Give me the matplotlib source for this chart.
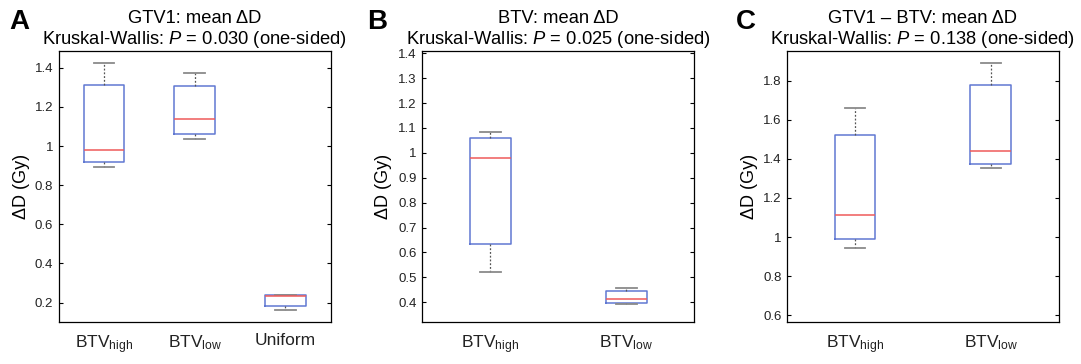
import matplotlib
matplotlib.use("Agg")
import matplotlib.pyplot as plt
from matplotlib.ticker import FuncFormatter

plt.rcParams.update({
    "font.family": ["Liberation Sans", "DejaVu Sans"],
    "mathtext.fontset": "custom",
    "mathtext.rm": "Liberation Sans",
    "mathtext.it": "Liberation Sans:italic",
    "mathtext.bf": "Liberation Sans:bold",
})

# box statistics: (whisker low, Q1, median, Q3, whisker high)
A_LABELS = [r"BTV$_{\mathrm{high}}$", r"BTV$_{\mathrm{low}}$", "Uniform"]
A_LO = [0.894, 1.034, 0.164]
A_Q1 = [0.917, 1.060, 0.183]
A_MED = [0.982, 1.136, 0.234]
A_Q3 = [1.312, 1.308, 0.238]
A_HI = [1.425, 1.371, 0.241]

B_LABELS = [r"BTV$_{\mathrm{high}}$", r"BTV$_{\mathrm{low}}$"]
B_LO = [0.522, 0.393]
B_Q1 = [0.636, 0.398]
B_MED = [0.980, 0.412]
B_Q3 = [1.060, 0.444]
B_HI = [1.083, 0.457]

C_LABELS = [r"BTV$_{\mathrm{high}}$", r"BTV$_{\mathrm{low}}$"]
C_LO = [0.944, 1.351]
C_Q1 = [0.989, 1.372]
C_MED = [1.115, 1.439]
C_Q3 = [1.524, 1.776]
C_HI = [1.659, 1.892]

TITLES = ["GTV1: mean \u0394D", "BTV: mean \u0394D", "GTV1 \u2013 BTV: mean \u0394D"]
PVALS = ["0.030", "0.025", "0.138"]
LETTERS = ["A", "B", "C"]

W, H = 1081, 364
fig = plt.figure(figsize=(W / 100, H / 100), dpi=100)


def px_axes(left, right, top=50.7, bottom=322):
    return fig.add_axes([left / W, 1 - bottom / H, (right - left) / W, (bottom - top) / H])


def panel(ax, labels, lo, q1, med, q3, hi, width, ylim, yticks, title, pval, ylab_x):
    stats = []
    for i in range(len(labels)):
        stats.append({"whislo": lo[i], "q1": q1[i], "med": med[i],
                      "q3": q3[i], "whishi": hi[i], "fliers": []})
    ax.bxp(stats, positions=range(1, len(labels) + 1), widths=width,
           showfliers=False,
           boxprops=dict(color="#6078d2", lw=1.1),
           medianprops=dict(color="#ef5a5a", lw=1.1),
           whiskerprops=dict(color="#555555", lw=0.9, ls=(0, (1.5, 1.5))),
           capprops=dict(color="#8a8a8a", lw=1.3),
           capwidths=width / 2)
    ax.set_xlim(0.5, len(labels) + 0.5)
    ax.set_ylim(*ylim)
    ax.set_yticks(yticks)
    ax.yaxis.set_major_formatter(FuncFormatter(lambda v, p: f"{v:g}"))
    ax.set_xticks(range(1, len(labels) + 1))
    ax.set_xticklabels(labels, fontsize=12.5, color="#222222")
    ax.tick_params(axis="x", length=0, pad=8)
    ax.tick_params(axis="y", direction="in", length=3, width=0.8, right=True,
                   labelsize=9.5, labelcolor="#222222", pad=4)
    for s in ax.spines.values():
        s.set_linewidth(0.9)
    ax.set_ylabel("\u0394D (Gy)", fontsize=13)
    ax.yaxis.set_label_coords(ylab_x, 0.5)
    ax.set_title(title + "\nKruskal-Wallis: $\\mathit{P}$ = " + pval + " (one-sided)",
                 fontsize=13.2, pad=5, linespacing=1.12)


ax_a = px_axes(58.7, 330.7)
panel(ax_a, A_LABELS, A_LO, A_Q1, A_MED, A_Q3, A_HI, 0.45, (0.101, 1.487),
      [0.2, 0.4, 0.6, 0.8, 1.0, 1.2, 1.4], TITLES[0], PVALS[0], -0.105)
ax_b = px_axes(422.3, 694.3)
panel(ax_b, B_LABELS, B_LO, B_Q1, B_MED, B_Q3, B_HI, 0.3, (0.321, 1.41),
      [0.4, 0.5, 0.6, 0.7, 0.8, 0.9, 1.0, 1.1, 1.2, 1.3, 1.4], TITLES[1], PVALS[1], -0.112)
ax_c = px_axes(787, 1058.7)
panel(ax_c, C_LABELS, C_LO, C_Q1, C_MED, C_Q3, C_HI, 0.3, (0.566, 1.953),
      [0.6, 0.8, 1.0, 1.2, 1.4, 1.6, 1.8], TITLES[2], PVALS[2], -0.105)

for x, letter in zip([9, 367, 736], LETTERS):
    fig.text(x / W, 1 - 9 / H, letter, fontsize=20, fontweight="bold",
             ha="left", va="top")

fig.savefig("out.png", dpi=100)
